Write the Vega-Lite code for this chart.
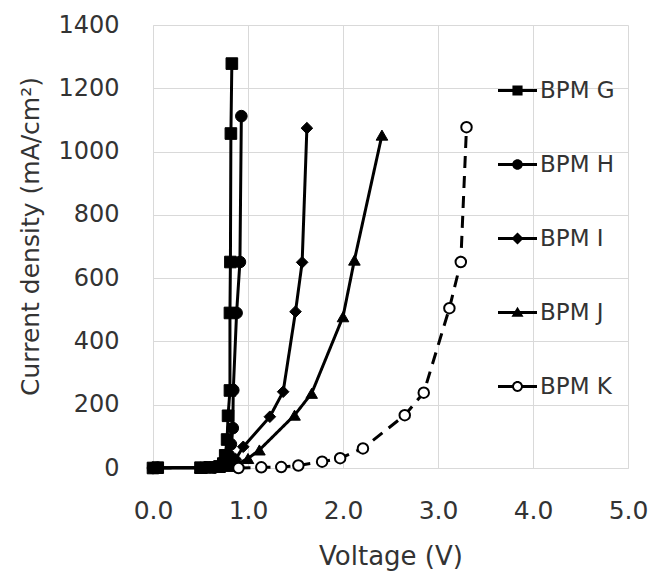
{
  "$schema": "https://vega.github.io/schema/vega-lite/v6.json",
  "autosize": "none",
  "padding": {"left": 153, "top": 25, "right": 26, "bottom": 105},
  "width": 475,
  "height": 443,
  "background": "white",
  "config": {
    "view": {"stroke": null},
    "font": "DejaVu Sans",
    "axis": {
      "gridColor": "#d9d9d9",
      "gridWidth": 1,
      "domainColor": "#d9d9d9",
      "domainWidth": 1,
      "ticks": false,
      "labelColor": "#333333",
      "titleColor": "#333333",
      "labelFont": "DejaVu Sans",
      "titleFont": "DejaVu Sans",
      "titleFontWeight": "normal",
      "labelFlush": false,
      "labelOverlap": false
    }
  },
  "data": {
    "values": [
      {"s": "BPM G", "i": 0, "v": 0, "j": 0},
      {"s": "BPM G", "i": 1, "v": 0.05, "j": 1},
      {"s": "BPM G", "i": 2, "v": 0.5, "j": 1},
      {"s": "BPM G", "i": 3, "v": 0.6, "j": 2},
      {"s": "BPM G", "i": 4, "v": 0.7, "j": 5},
      {"s": "BPM G", "i": 5, "v": 0.74, "j": 14},
      {"s": "BPM G", "i": 6, "v": 0.76, "j": 40},
      {"s": "BPM G", "i": 7, "v": 0.78, "j": 90},
      {"s": "BPM G", "i": 8, "v": 0.79, "j": 165},
      {"s": "BPM G", "i": 9, "v": 0.81, "j": 245},
      {"s": "BPM G", "i": 10, "v": 0.81, "j": 490},
      {"s": "BPM G", "i": 11, "v": 0.815, "j": 651},
      {"s": "BPM G", "i": 12, "v": 0.82, "j": 1057},
      {"s": "BPM G", "i": 13, "v": 0.83, "j": 1278},
      {"s": "BPM H", "i": 0, "v": 0, "j": 0},
      {"s": "BPM H", "i": 1, "v": 0.05, "j": 1},
      {"s": "BPM H", "i": 2, "v": 0.55, "j": 1},
      {"s": "BPM H", "i": 3, "v": 0.65, "j": 2},
      {"s": "BPM H", "i": 4, "v": 0.72, "j": 5},
      {"s": "BPM H", "i": 5, "v": 0.77, "j": 15},
      {"s": "BPM H", "i": 6, "v": 0.8, "j": 40},
      {"s": "BPM H", "i": 7, "v": 0.82, "j": 75},
      {"s": "BPM H", "i": 8, "v": 0.84, "j": 126},
      {"s": "BPM H", "i": 9, "v": 0.845, "j": 246},
      {"s": "BPM H", "i": 10, "v": 0.88, "j": 490},
      {"s": "BPM H", "i": 11, "v": 0.915, "j": 651},
      {"s": "BPM H", "i": 12, "v": 0.93, "j": 1112},
      {"s": "BPM I", "i": 0, "v": 0, "j": 0},
      {"s": "BPM I", "i": 1, "v": 0.5, "j": 1},
      {"s": "BPM I", "i": 2, "v": 0.6, "j": 2},
      {"s": "BPM I", "i": 3, "v": 0.7, "j": 4},
      {"s": "BPM I", "i": 4, "v": 0.8, "j": 10},
      {"s": "BPM I", "i": 5, "v": 0.87, "j": 28},
      {"s": "BPM I", "i": 6, "v": 0.95, "j": 67},
      {"s": "BPM I", "i": 7, "v": 1.23, "j": 162},
      {"s": "BPM I", "i": 8, "v": 1.37, "j": 241},
      {"s": "BPM I", "i": 9, "v": 1.5, "j": 494},
      {"s": "BPM I", "i": 10, "v": 1.57, "j": 650},
      {"s": "BPM I", "i": 11, "v": 1.62, "j": 1074},
      {"s": "BPM J", "i": 0, "v": 0.5, "j": 0},
      {"s": "BPM J", "i": 1, "v": 0.6, "j": 1},
      {"s": "BPM J", "i": 2, "v": 0.7, "j": 2},
      {"s": "BPM J", "i": 3, "v": 0.8, "j": 5},
      {"s": "BPM J", "i": 4, "v": 0.9, "j": 15},
      {"s": "BPM J", "i": 5, "v": 1.0, "j": 30},
      {"s": "BPM J", "i": 6, "v": 1.12, "j": 57},
      {"s": "BPM J", "i": 7, "v": 1.49, "j": 167},
      {"s": "BPM J", "i": 8, "v": 1.67, "j": 236},
      {"s": "BPM J", "i": 9, "v": 2.0, "j": 478},
      {"s": "BPM J", "i": 10, "v": 2.12, "j": 657},
      {"s": "BPM J", "i": 11, "v": 2.41, "j": 1052},
      {"s": "BPM K", "i": 0, "v": 0.9, "j": 0},
      {"s": "BPM K", "i": 1, "v": 1.14, "j": 2},
      {"s": "BPM K", "i": 2, "v": 1.35, "j": 3},
      {"s": "BPM K", "i": 3, "v": 1.53, "j": 8},
      {"s": "BPM K", "i": 4, "v": 1.78, "j": 20},
      {"s": "BPM K", "i": 5, "v": 1.97, "j": 31},
      {"s": "BPM K", "i": 6, "v": 2.21, "j": 62},
      {"s": "BPM K", "i": 7, "v": 2.65, "j": 167},
      {"s": "BPM K", "i": 8, "v": 2.85, "j": 238},
      {"s": "BPM K", "i": 9, "v": 3.12, "j": 505},
      {"s": "BPM K", "i": 10, "v": 3.24, "j": 651},
      {"s": "BPM K", "i": 11, "v": 3.3, "j": 1077}
    ]
  },
  "encoding": {
    "x": {
      "field": "v", "type": "quantitative",
      "scale": {"domain": [0, 5], "nice": false, "zero": false},
      "axis": {
        "title": "Voltage (V)",
        "values": [0, 1, 2, 3, 4, 5],
        "format": ".1f",
        "labelFontSize": 25,
        "labelPadding": 30,
        "titleFontSize": 26,
        "titlePadding": 20
      }
    },
    "y": {
      "field": "j", "type": "quantitative",
      "scale": {"domain": [0, 1400], "nice": false},
      "axis": {
        "title": "Current density (mA/cm²)",
        "values": [0, 200, 400, 600, 800, 1000, 1200, 1400],
        "format": "d",
        "labelFontSize": 24,
        "labelPadding": 34,
        "titleFontSize": 25,
        "titlePadding": 14,
        "titleY": 211
      }
    }
  },
  "layer": [
    {
      "mark": {"type": "line", "color": "black", "strokeWidth": 3},
      "encoding": {
        "detail": {"field": "s"},
        "order": {"field": "i", "type": "quantitative"},
        "strokeDash": {
          "condition": {"test": "datum.s === 'BPM K'", "value": [12, 8]},
          "value": [1, 0]
        }
      }
    },
    {
      "mark": {"type": "point", "filled": true, "stroke": "black", "opacity": 1},
      "encoding": {
        "shape": {
          "field": "s", "type": "nominal",
          "scale": {
            "domain": ["BPM G", "BPM H", "BPM I", "BPM J", "BPM K"],
            "range": ["square", "circle", "diamond", "triangle-up", "circle"]
          },
          "legend": null
        },
        "fill": {
          "condition": {"test": "datum.s === 'BPM K'", "value": "white"},
          "value": "black"
        },
        "size": {
          "condition": {"test": "datum.s === 'BPM K'", "value": 110},
          "value": 135
        },
        "strokeWidth": {
          "condition": {"test": "datum.s === 'BPM K'", "value": 2},
          "value": 1
        }
      }
    },
    {
      "mark": {"type": "point", "filled": true, "color": "black", "fill": "black", "opacity": 0},
      "encoding": {
        "shape": {
          "field": "s", "type": "nominal",
          "scale": {
            "domain": ["BPM G", "BPM H", "BPM I", "BPM J", "BPM K"],
            "range": [
              "M-1,-0.077H1V0.077H-1ZM-0.26,-0.26H0.26V0.26H-0.26Z",
              "M-1,-0.077H1V0.077H-1ZM-0.27,0A0.27,0.27 0 1,1 0.27,0A0.27,0.27 0 1,1 -0.27,0Z",
              "M-1,-0.077H1V0.077H-1ZM0,-0.31L0.31,0L0,0.31L-0.31,0Z",
              "M-1,-0.077H1V0.077H-1ZM0,-0.3L0.31,0.22L-0.31,0.22Z",
              "M-1,-0.077H-0.27V0.077H-1ZM0.27,-0.077H1V0.077H0.27ZM-0.28,0A0.28,0.28 0 1,1 0.28,0A0.28,0.28 0 1,1 -0.28,0ZM-0.18,0A0.18,0.18 0 1,0 0.18,0A0.18,0.18 0 1,0 -0.18,0Z"
            ]
          },
          "legend": {
            "title": null,
            "orient": "none",
            "legendX": 345,
            "legendY": 46,
            "padding": 0,
            "symbolSize": 1521,
            "symbolStrokeWidth": 0,
            "symbolFillColor": "black",
            "symbolOpacity": 1,
            "labelFontSize": 23,
            "labelColor": "#333333",
            "labelOffset": 3,
            "rowPadding": 42,
            "labelFont": "DejaVu Sans"
          }
        }
      }
    }
  ],
  "resolve": {"scale": {"shape": "independent"}}
}
